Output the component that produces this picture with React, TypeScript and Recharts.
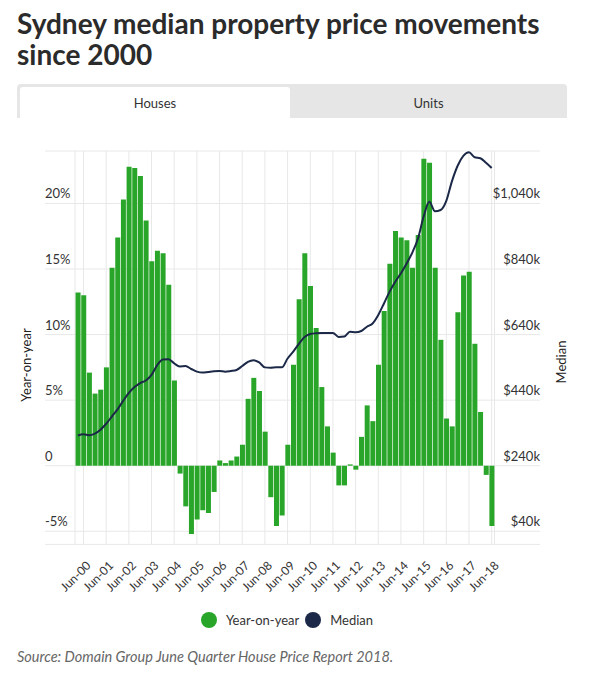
import React from "react";
import {
  ComposedChart,
  Bar,
  Line,
  XAxis,
  YAxis,
  CartesianGrid,
} from "recharts";

// ---------- DATA ----------
const quarters = [
  "Mar-00", "Jun-00", "Sep-00", "Dec-00",
  "Mar-01", "Jun-01", "Sep-01", "Dec-01",
  "Mar-02", "Jun-02", "Sep-02", "Dec-02",
  "Mar-03", "Jun-03", "Sep-03", "Dec-03",
  "Mar-04", "Jun-04", "Sep-04", "Dec-04",
  "Mar-05", "Jun-05", "Sep-05", "Dec-05",
  "Mar-06", "Jun-06", "Sep-06", "Dec-06",
  "Mar-07", "Jun-07", "Sep-07", "Dec-07",
  "Mar-08", "Jun-08", "Sep-08", "Dec-08",
  "Mar-09", "Jun-09", "Sep-09", "Dec-09",
  "Mar-10", "Jun-10", "Sep-10", "Dec-10",
  "Mar-11", "Jun-11", "Sep-11", "Dec-11",
  "Mar-12", "Jun-12", "Sep-12", "Dec-12",
  "Mar-13", "Jun-13", "Sep-13", "Dec-13",
  "Mar-14", "Jun-14", "Sep-14", "Dec-14",
  "Mar-15", "Jun-15", "Sep-15", "Dec-15",
  "Mar-16", "Jun-16", "Sep-16", "Dec-16",
  "Mar-17", "Jun-17", "Sep-17", "Dec-17",
  "Mar-18", "Jun-18",
];

// Year-on-year change, %
const yoyChange = [
  13.2, 13.0, 7.1, 5.5,
  5.8, 7.5, 15.1, 17.4,
  20.3, 22.8, 22.7, 22.1,
  18.7, 15.6, 16.4, 16.2,
  13.8, 6.5, -0.6, -3.1,
  -5.2, -4.1, -3.4, -3.6,
  -2.0, 0.4, 0.2, 0.4,
  0.7, 1.6, 5.1, 6.7,
  5.7, 2.6, -2.4, -4.6,
  -3.8, 1.6, 7.7, 12.7,
  16.2, 13.7, 10.5, 6.0,
  3.0, 1.0, -1.5, -1.5,
  0.1, -0.3, 2.2, 4.6,
  3.4, 7.7, 11.8, 15.4,
  17.9, 17.4, 17.2, 15.1,
  17.6, 23.4, 23.1, 15.1,
  9.6, 3.6, 3.0, 11.7,
  14.5, 14.8, 9.3, 4.1,
  -0.7, -4.6,
];

// Median house price, $k
const medianPrice = [
  332, 336, 333, 338,
  350, 368, 390, 412,
  438, 462, 480, 492,
  500, 517, 547, 564,
  565, 552, 543, 544,
  535, 527, 524, 526,
  528, 529, 527, 529,
  532, 544, 557, 562,
  555, 540, 539, 540,
  540, 567, 588, 612,
  633, 642, 644, 645,
  645, 645, 633, 634,
  649, 647, 651, 664,
  674, 700, 735, 771,
  801, 827, 857, 890,
  933, 1000, 1045, 1016,
  1020, 1048, 1108, 1155,
  1185, 1196, 1181, 1178,
  1164, 1148,
];

const xTickLabels = [
  "Jun-00", "Jun-01", "Jun-02", "Jun-03", "Jun-04", "Jun-05", "Jun-06",
  "Jun-07", "Jun-08", "Jun-09", "Jun-10", "Jun-11", "Jun-12", "Jun-13",
  "Jun-14", "Jun-15", "Jun-16", "Jun-17", "Jun-18",
];
const leftTicks = [-5, 0, 5, 10, 15, 20];
const rightTicks = [40, 240, 440, 640, 840, 1040];

const seriesNames = { yoy: "Year-on-year", median: "Median" };

const chartData = quarters.map((q, i) => ({
  q,
  yoy: yoyChange[i],
  median: medianPrice[i],
}));

// ---------- STYLE ----------
const FONT = "Lato, 'Noto Sans', sans-serif";
const GREEN = "#29a629";
const NAVY = "#1b2847";
const GRID = "#e8e8e8";
const TEXT = "#333333";
const GRID_LEFT = 45;
const GRID_RIGHT = 540;

const fmtLeft = (v: number) => (v === 0 ? "0" : `${v}%`);
const fmtRight = (v: number) => `$${v.toLocaleString("en-US")}k`;

const LeftTick = (props: any) => {
  const { y, payload } = props;
  return (
    <text x={GRID_LEFT} y={y - 5} textAnchor="start" fill={TEXT} fontSize={13} fontFamily={FONT}>
      {fmtLeft(payload.value)}
    </text>
  );
};

const RightTick = (props: any) => {
  const { y, payload } = props;
  return (
    <text x={GRID_RIGHT} y={y - 5} textAnchor="end" fill={TEXT} fontSize={13} fontFamily={FONT}>
      {fmtRight(payload.value)}
    </text>
  );
};

const XTick = (props: any) => {
  const { x, y, payload } = props;
  const ax = x + 8;
  const ay = y + 14;
  return (
    <text
      x={ax}
      y={ay}
      textAnchor="end"
      fill={TEXT}
      fontSize={12}
      fontFamily={FONT}
      transform={`rotate(-45, ${ax}, ${ay})`}
    >
      {payload.value}
    </text>
  );
};

const HLine = (p: any) => (
  <line
    key={p.key}
    x1={GRID_LEFT}
    x2={GRID_RIGHT}
    y1={p.y1}
    y2={p.y2}
    stroke={GRID}
    strokeWidth={1}
  />
);

export default function App() {
  return (
    <div
      style={{
        position: "relative",
        width: 599,
        height: 679,
        margin: -8,
        background: "#ffffff",
        fontFamily: FONT,
        overflow: "hidden",
      }}
    >
      <div style={{ position: "absolute", left: 0, top: 0 }}>
        <ComposedChart
          width={599}
          height={600}
          data={chartData}
          margin={{ top: 151, right: 58.5, bottom: 15.6, left: 45 }}
          barCategoryGap="10%"
        >
          <CartesianGrid
            yAxisId="left"
            stroke={GRID}
            horizontal={HLine}
            vertical={true}
          />
          <XAxis
            dataKey="q"
            ticks={xTickLabels}
            interval={0}
            axisLine={false}
            tickLine={false}
            height={40}
            tick={XTick}
          />
          <YAxis
            yAxisId="left"
            orientation="left"
            domain={[-6, 24]}
            ticks={leftTicks}
            width={30}
            axisLine={false}
            tickLine={false}
            allowDataOverflow
            tick={LeftTick}
            label={{
              content: () => (
                <text
                  transform="translate(31, 365) rotate(-90)"
                  textAnchor="middle"
                  fill="#222"
                  fontSize={13}
                  fontFamily={FONT}
                >
                  {seriesNames.yoy}
                </text>
              ),
            }}
          />
          <YAxis
            yAxisId="right"
            orientation="right"
            domain={[0, 1200]}
            ticks={rightTicks}
            width={46}
            axisLine={false}
            tickLine={false}
            allowDataOverflow
            tick={RightTick}
            label={{
              content: () => (
                <text
                  transform="translate(566, 362) rotate(-90)"
                  textAnchor="middle"
                  fill="#222"
                  fontSize={13}
                  fontFamily={FONT}
                >
                  {seriesNames.median}
                </text>
              ),
            }}
          />
          <Bar
            yAxisId="left"
            dataKey="yoy"
            name={seriesNames.yoy}
            fill={GREEN}
            isAnimationActive={false}
          />
          <Line
            yAxisId="right"
            type="monotone"
            dataKey="median"
            name={seriesNames.median}
            stroke={NAVY}
            strokeWidth={2}
            dot={false}
            isAnimationActive={false}
          />
        </ComposedChart>
      </div>

      {/* Title */}
      <div
        style={{
          position: "absolute",
          left: 17,
          top: 8,
          width: 570,
          fontSize: 28,
          lineHeight: "31px",
          fontWeight: 700,
          color: "#2b2b2b",
        }}
      >
        Sydney median property price movements since 2000
      </div>

      {/* Tabs */}
      <div
        style={{
          position: "absolute",
          left: 17,
          top: 84,
          width: 550,
          height: 34,
          background: "#e6e6e6",
          borderRadius: "4px 4px 0 0",
        }}
      >
        <div
          style={{
            position: "absolute",
            left: 3,
            top: 3,
            width: 270,
            height: 31,
            background: "#ffffff",
            borderRadius: "3px 3px 0 0",
            display: "flex",
            alignItems: "center",
            justifyContent: "center",
            fontSize: 13,
            color: TEXT,
          }}
        >
          Houses
        </div>
        <div
          style={{
            position: "absolute",
            left: 273,
            top: 3,
            width: 277,
            height: 31,
            display: "flex",
            alignItems: "center",
            justifyContent: "center",
            fontSize: 13,
            color: TEXT,
          }}
        >
          Units
        </div>
      </div>

      {/* Legend */}
      <div
        style={{
          position: "absolute",
          left: 0,
          top: 612,
          width: 574,
          display: "flex",
          justifyContent: "center",
          alignItems: "center",
          fontSize: 13,
          color: TEXT,
        }}
      >
        <span style={{ width: 16, height: 16, borderRadius: 8, background: GREEN, display: "inline-block", marginRight: 9 }} />
        <span style={{ marginRight: 6 }}>{seriesNames.yoy}</span>
        <span style={{ width: 16, height: 16, borderRadius: 8, background: NAVY, display: "inline-block", marginRight: 9 }} />
        <span>{seriesNames.median}</span>
      </div>

      {/* Source */}
      <div
        style={{
          position: "absolute",
          left: 17,
          top: 648,
          fontSize: 14.5,
          fontStyle: "italic",
          color: "#666666",
        }}
      >
        Source: Domain Group June Quarter House Price Report 2018.
      </div>
    </div>
  );
}
